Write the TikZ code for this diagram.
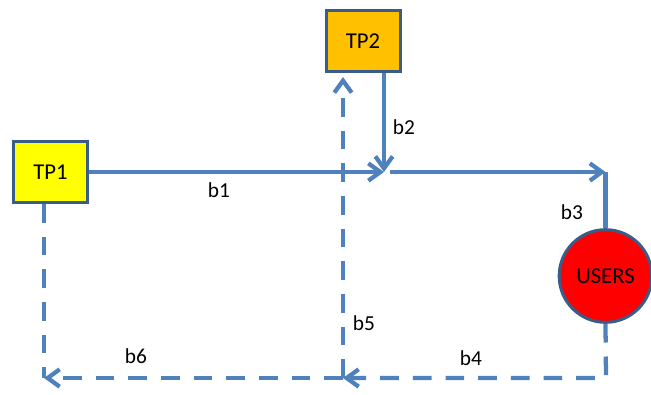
\documentclass[tikz,border=0pt]{standalone}
\usepackage{fontspec}
\setmainfont{Carlito}
\usetikzlibrary{arrows.meta}
\definecolor{linkblue}{HTML}{4F81BD}
\definecolor{boxedge}{HTML}{385D8A}
\definecolor{tpyellow}{HTML}{FFFF00}
\definecolor{tporange}{HTML}{FFC000}

\begin{document}
\begin{tikzpicture}[x=0.75pt, y=-0.75pt,
  tpbox/.style={draw=boxedge, line width=2.25pt, minimum width=55.5pt, minimum height=45.75pt, inner sep=0pt, font=\fontsize{17}{20}\selectfont},
  link/.style={draw=linkblue, line width=3.2pt},
  back/.style={link, dash pattern=on 14pt off 10.5pt},
  tip/.style={-{Straight Barb[length=9pt,width=13pt]}},
  lbl/.style={font=\fontsize{16}{19}\selectfont}]
\useasboundingbox (0,0) rectangle (651,394);
% the two producers and the users
\node[tpbox, fill=tpyellow] (TP1) at (50.5,172) {TP1};
\node[tpbox, fill=tporange] (TP2) at (363,41) {TP2};
\node[circle, draw=boxedge, line width=2.25pt, fill=red, minimum size=69.5pt, inner sep=0pt, font=\fontsize{17}{20}\selectfont] (USERS) at (605.5,276) {USERS};
% corners and junctions
\coordinate (j1) at (384,172);
\coordinate (j2) at (390,172);
\coordinate (c3) at (USERS.north |- j2);
\coordinate (c4) at (606,378);
\coordinate (j5) at (343,378);
\coordinate (t5) at (343,77);
\coordinate (c6) at (44,378);
% forward links
\draw[link, tip] (TP1.east) -- (j1);
\draw[link, tip] (TP2.south -| j1) -- (j1);
\draw[link, tip] (j2) -- (c3);
\draw[link] (c3) -- (USERS.north);
% return links
\draw[back, tip] (USERS.south) -- (c4) -- (j5);
\draw[back, tip] (j5) -- (t5);
\draw[back, tip] (j5) -- (c6);
\draw[back] (TP1.south -| c6) -- (c6);
% labels
\node[lbl] (b1) at (219,190) {b1};
\node[lbl] (b2) at (404,127) {b2};
\node[lbl] (b3) at (572,212) {b3};
\node[lbl] (b4) at (471,358) {b4};
\node[lbl] (b5) at (364,323) {b5};
\node[lbl] (b6) at (136,356) {b6};
\end{tikzpicture}
\end{document}
